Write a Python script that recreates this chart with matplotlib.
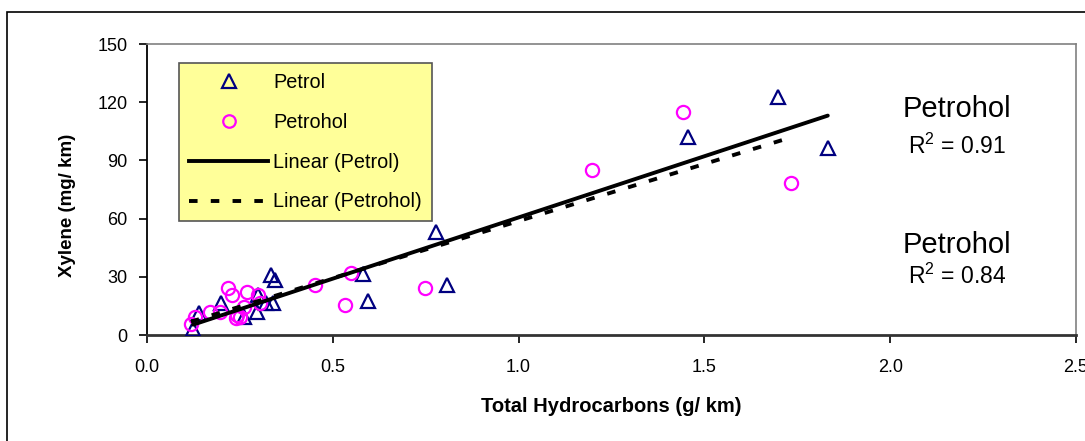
import numpy as np
import matplotlib
matplotlib.use("Agg")
import matplotlib.pyplot as plt
from matplotlib.lines import Line2D
from matplotlib.patches import Rectangle

plt.rcParams["font.family"] = ["Liberation Sans", "DejaVu Sans"]
plt.rcParams["mathtext.fontset"] = "custom"
plt.rcParams["mathtext.rm"] = "Liberation Sans"
plt.rcParams["mathtext.it"] = "Liberation Sans"

# Petrol measurements: total hydrocarbons (g/km) vs xylene (mg/km)
petrol_thc = [0.124, 0.14, 0.20, 0.26, 0.30, 0.295, 0.335, 0.345, 0.32, 0.34,
              0.58, 0.594, 0.777, 0.808, 1.455, 1.697, 1.832]
petrol_xyl = [3.0, 11.5, 16.3, 9.4, 20.6, 12.0, 31.0, 28.4, 16.3, 16.3,
              31.4, 17.5, 53.3, 25.8, 102.0, 122.5, 96.5]

# Petrohol measurements
petrohol_thc = [0.118, 0.13, 0.17, 0.196, 0.219, 0.228, 0.241, 0.24, 0.25, 0.268,
                0.26, 0.30, 0.305, 0.452, 0.533, 0.548, 0.748, 1.197, 1.443, 1.733]
petrohol_xyl = [5.7, 9.4, 12.0, 12.0, 24.0, 20.6, 10.3, 8.6, 9.4, 22.3,
                14.6, 20.6, 16.5, 26.0, 15.5, 32.0, 24.0, 85.0, 114.8, 78.5]

x_ticks = [0.0, 0.5, 1.0, 1.5, 2.0, 2.5]
y_ticks = [0, 30, 60, 90, 120, 150]
fit_labels = [("Petrohol", r"R$^{2}$ = 0.91"), ("Petrohol", r"R$^{2}$ = 0.84")]

W, H = 1085, 441
fig = plt.figure(figsize=(W / 100, H / 100), dpi=100)
ax = fig.add_axes([147 / W, 1 - 335 / H, (1076 - 147) / W, (335 - 44) / H])

# outer chart frame
fig.patches.append(Rectangle((7 / W, -0.05), 1.2, 1 - 12 / H + 0.05,
                             transform=fig.transFigure, fill=False,
                             edgecolor="black", linewidth=1.2))

navy = "#000080"
magenta = "#FF00FF"

ax.plot(petrol_thc, petrol_xyl, linestyle="none", marker="^", markersize=10,
        markerfacecolor="none", markeredgecolor=navy, markeredgewidth=1.6, zorder=3)
ax.plot(petrohol_thc, petrohol_xyl, linestyle="none", marker="o", markersize=9.5,
        markerfacecolor="none", markeredgecolor=magenta, markeredgewidth=1.6, zorder=3)

# least-squares trend lines
def trend(xs, ys):
    xs = np.asarray(xs)
    k, b = np.polyfit(xs, ys, 1)
    xr = np.array([xs.min(), xs.max()])
    return xr, k * xr + b

xr, yr = trend(petrol_thc, petrol_xyl)
ax.plot(xr, yr, color="black", linewidth=2.8, solid_capstyle="round", zorder=4)
xr, yr = trend(petrohol_thc, petrohol_xyl)
ax.plot(xr, yr, color="black", linewidth=2.8, linestyle=(0, (2.2, 3.4)), zorder=4)

ax.set_xlim(0, 2.5)
ax.set_ylim(0, 150)
ax.set_xticks(x_ticks)
ax.set_xticklabels([f"{v:.1f}" for v in x_ticks])
ax.set_yticks(y_ticks)
ax.set_yticklabels([str(v) for v in y_ticks])
ax.tick_params(axis="both", direction="out", labelsize=13, colors="black")
ax.tick_params(axis="y", length=6, width=1.2, pad=8)
ax.tick_params(axis="x", length=6, width=1.2, pad=11)

ax.spines["left"].set_color("black")
ax.spines["left"].set_linewidth(1.3)
ax.spines["bottom"].set_color("#333333")
ax.spines["bottom"].set_linewidth(2.0)
for s in ("top", "right"):
    ax.spines[s].set_color("#808080")
    ax.spines[s].set_linewidth(1.2)

fig.text(68 / W, 1 - 205 / H, "Xylene (mg/ km)", rotation=90, ha="center",
         va="center", fontsize=13.5, fontweight="bold")
fig.text(611 / W, 1 - 407 / H, "Total Hydrocarbons (g/ km)", ha="center",
         va="center", fontsize=14.5, fontweight="bold")

handles = [
    Line2D([], [], linestyle="none", marker="^", markersize=9.5, markerfacecolor="none",
           markeredgecolor=navy, markeredgewidth=1.6),
    Line2D([], [], linestyle="none", marker="o", markersize=9, markerfacecolor="none",
           markeredgecolor=magenta, markeredgewidth=1.6),
    Line2D([], [], color="black", linewidth=2.8),
    Line2D([], [], color="black", linewidth=2.8, linestyle=(0, (2.2, 3.4))),
]
labels = ["Petrol", "Petrohol", "Linear (Petrol)", "Linear (Petrohol)"]
leg = ax.legend(handles, labels, loc="upper left",
                bbox_to_anchor=(179 / W, 1 - 63 / H), bbox_transform=fig.transFigure,
                borderaxespad=0, fontsize=14.3, handlelength=4.0, handletextpad=0.25,
                borderpad=0.5, labelspacing=1.05, fancybox=False, framealpha=1,
                facecolor="#FFFF99", edgecolor="#555555")
leg.get_frame().set_linewidth(1.2)

for (name, r2), (ty, ry) in zip(fit_labels, [(109, 146), (245, 276)]):
    fig.text(957 / W, 1 - ty / H, name, ha="center", va="center", fontsize=21)
    fig.text(957 / W, 1 - ry / H, r2, ha="center", va="center", fontsize=16.5)

fig.savefig("out.png", dpi=100)
